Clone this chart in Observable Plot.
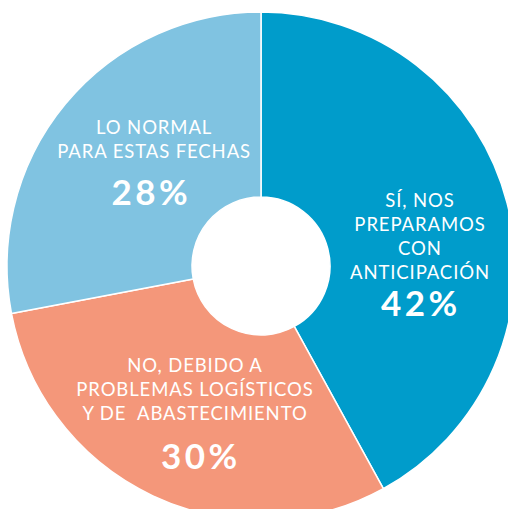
<!DOCTYPE html>
<html><head><meta charset="utf-8">
<script src="https://cdn.jsdelivr.net/npm/d3@7"></script>
<script src="https://cdn.jsdelivr.net/npm/@observablehq/plot@0.6"></script>
<style>
  html,body{margin:0;padding:0;background:#fff}
  #chart svg{display:block}
  #chart text{white-space:pre}
</style>
</head><body><div id="chart"></div>
<script>
// ---- data ----
const categories = [
  "SÍ, NOS PREPARAMOS CON ANTICIPACIÓN",
  "NO, DEBIDO A PROBLEMAS LOGÍSTICOS Y DE  ABASTECIMIENTO",
  "LO NORMAL PARA ESTAS FECHAS"
];
const labelLines = [
  "SÍ, NOS\nPREPARAMOS\nCON\nANTICIPACIÓN",
  "NO, DEBIDO A\nPROBLEMAS LOGÍSTICOS\nY DE  ABASTECIMIENTO",
  "LO NORMAL\nPARA ESTAS FECHAS"
];
const values = [42, 30, 28];
const colors = ["#009ccb", "#f4977a", "#80c3e1"];

// ---- layout / style ----
const W = 508, H = 509;
const R = 254;               // outer radius in px (1 data unit)
const innerRatio = 69 / 254;
const labelRadius = 0.62;
// per-slice annotation nudges (px): [label dx, label dy, percent dx, percent dy]
const nudges = [[6, 52, -0.5, 37], [0.6, 12, 4.5, 49], [14, -8, -4, 47]];

const rows = categories.map((c, i) => ({category: c, label: labelLines[i], value: values[i], pct: values[i] + "%"}));
const arcs = d3.pie().sort(null).value(d => d.value)(rows);
arcs.forEach((a, i) => {
  const mid = (a.startAngle + a.endAngle) / 2;
  a.data.ax = Math.sin(mid) * labelRadius;
  a.data.ay = Math.cos(mid) * labelRadius;
  const [ldx, ldy, pdx, pdy] = nudges[i];
  a.data.lx = a.data.ax + ldx / R;
  a.data.ly = a.data.ay - ldy / R;
  a.data.px = a.data.lx + pdx / R;
  a.data.py = a.data.ly - pdy / R;
});

const colorScale = Plot.scale({color: {domain: categories, range: colors}});

function donut(index, scales) {
  const {x, y} = scales;
  const cx = x(0), cy = y(0), Rpx = Math.abs(x(1) - x(0));
  const color = scales.color ?? ((c) => colorScale.apply(c));
  const arc = d3.arc().innerRadius(Rpx * innerRatio).outerRadius(Rpx);
  const g = d3.create("svg:g").attr("transform", `translate(${cx},${cy})`);
  g.selectAll("path").data(arcs).join("path")
    .attr("d", arc)
    .attr("fill", d => color(d.data.category))
    .attr("stroke", "white")
    .attr("stroke-width", 1.5)
    .attr("stroke-linejoin", "round");
  return g.node();
}

const chart = Plot.plot({
  width: W, height: H, margin: 0,
  style: {background: "white"},
  x: {domain: [-261 / R, (W - 261) / R], axis: null},
  y: {domain: [-(H - 266) / R, 266 / R], axis: null},
  color: {domain: categories, range: colors},
  marks: [
    donut,
    Plot.text(rows, {x: "lx", y: "ly", text: "label", fill: "white", fontSize: 18.5,
      fontFamily: "Lato", fontWeight: 400, lineHeight: 1.3, lineAnchor: "bottom", textAnchor: "middle"}),
    Plot.text(rows, {x: "px", y: "py", text: "pct", fill: "white", fontSize: 35,
      fontFamily: "Lato", fontWeight: 700, lineAnchor: "bottom", textAnchor: "middle"})
  ]
});
// letter spacing (typographic style) for the two text layers
const textLayers = d3.select(chart).selectAll('g[aria-label="text"]').nodes();
if (textLayers[0]) d3.select(textLayers[0]).attr("letter-spacing", 0.9).attr("transform", "translate(0.45,0)");
if (textLayers[1]) d3.select(textLayers[1]).attr("letter-spacing", 3.5).attr("transform", "translate(1.75,0)");
document.getElementById("chart").append(chart);
</script>
</body></html>
